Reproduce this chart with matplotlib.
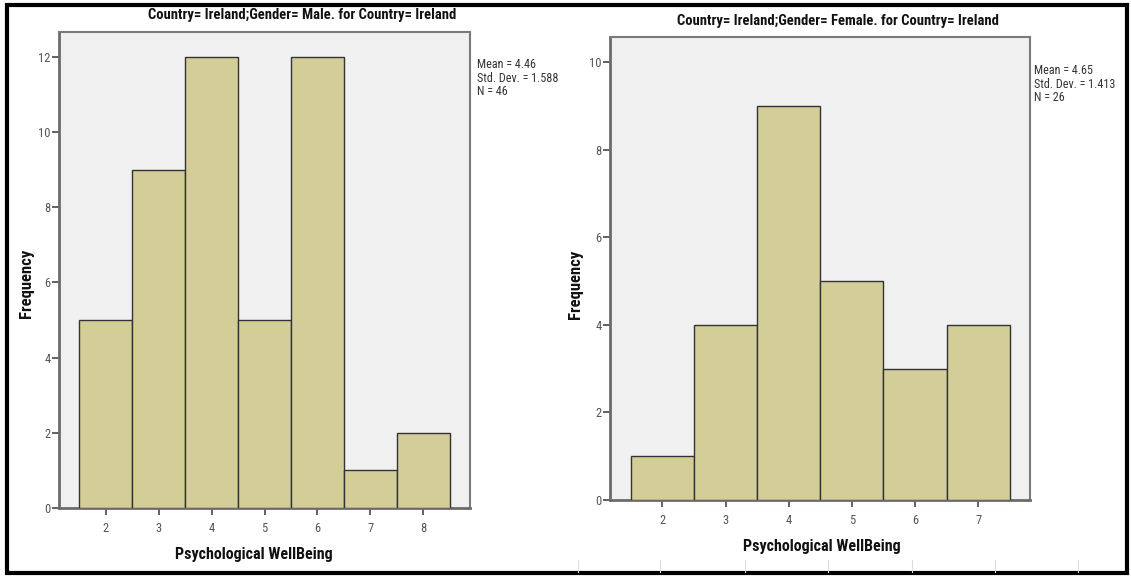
import matplotlib
matplotlib.use("Agg")
import matplotlib.pyplot as plt
from matplotlib import font_manager
from matplotlib.patches import Rectangle
from matplotlib.lines import Line2D

# Data
male_bins = [2, 3, 4, 5, 6, 7, 8]
male_freq = [5, 9, 12, 5, 12, 1, 2]
female_bins = [2, 3, 4, 5, 6, 7]
female_freq = [1, 4, 9, 5, 3, 4]
male_title = "Country= Ireland;Gender= Male. for Country= Ireland"
female_title = "Country= Ireland;Gender= Female. for Country= Ireland"
male_stats = "Mean = 4.46\nStd. Dev. = 1.588\nN = 46"
female_stats = "Mean = 4.65\nStd. Dev. = 1.413\nN = 26"
male_yticks = [0, 2, 4, 6, 8, 10, 12]
female_yticks = [0, 2, 4, 6, 8, 10]
xlabel = "Psychological WellBeing"
ylabel = "Frequency"

narrow = None
for cand in ['Liberation Sans Narrow', 'DejaVu Sans Condensed', 'Roboto Condensed',
             'Open Sans Condensed', 'Arial Narrow']:
    try:
        font_manager.findfont(cand, fallback_to_default=False)
        narrow = cand
        break
    except Exception:
        pass

if narrow:
    plt.rcParams['font.family'] = [narrow, 'DejaVu Sans']
    k = 1.0
else:
    plt.rcParams['font.family'] = ['Liberation Sans', 'DejaVu Sans']
    k = 0.88

W, H = 1131, 577
fig = plt.figure(figsize=(W / 100, H / 100), dpi=100)
fig.patch.set_facecolor("white")

bar_color = "#D3CE97"
bg = "#F0F0F0"

def make_axes(rect, bins, freq, yticks, xlim, ylim, title, title_xy, stats, stats_xy,
              ylab_xy, xlab_xy):
    ax = fig.add_axes(rect)
    ax.set_facecolor(bg)
    ax.bar(bins, freq, width=1.0, color=bar_color, edgecolor="#333333", linewidth=1.0, zorder=3)
    ax.set_xlim(*xlim)
    ax.set_ylim(*ylim)
    ax.set_xticks(bins)
    ax.set_yticks(yticks)
    ax.tick_params(axis="both", direction="out", length=5, width=1.3, color="#555555",
                   labelsize=9 * k, labelcolor="#555555")
    ax.tick_params(axis="x", pad=5)
    ax.tick_params(axis="y", pad=1)
    for s in ["left", "bottom"]:
        ax.spines[s].set_color("#6b6b6b")
        ax.spines[s].set_linewidth(2.0)
    for s in ["top", "right"]:
        ax.spines[s].set_color("#7a7a7a")
        ax.spines[s].set_linewidth(1.5)
    fig.text(title_xy[0] / W, 1 - title_xy[1] / H, title, ha="center", va="center",
             fontsize=10.5 * k, fontweight="bold", color="#111111")
    fig.text(stats_xy[0] / W, 1 - stats_xy[1] / H, stats, ha="left", va="top",
             fontsize=8.7 * k, color="#333333", linespacing=1.05)
    fig.text(ylab_xy[0] / W, 1 - ylab_xy[1] / H, ylabel, rotation=90, ha="center", va="center",
             fontsize=12 * k, fontweight="bold", color="#111111")
    fig.text(xlab_xy[0] / W, 1 - xlab_xy[1] / H, xlabel, ha="center", va="center",
             fontsize=11.5 * k, fontweight="bold", color="#111111")
    return ax

ax1 = make_axes([59 / W, 1 - 508 / H, 411 / W, 476 / H], male_bins, male_freq, male_yticks,
                (1.12, 8.88), (0, 12.66), male_title, (302, 15), male_stats, (477, 58),
                (27, 283), (254, 554))
ax2 = make_axes([610 / W, 1 - 500 / H, 420 / W, 463 / H], female_bins, female_freq, female_yticks,
                (1.17, 7.82), (0, 10.57), female_title, (838, 21), female_stats, (1034, 64),
                (576, 284), (822, 547))

# outer black frame
fig.add_artist(Rectangle((7 / W, 4 / H), (1127 - 7) / W, (572 - 4) / H, transform=fig.transFigure,
                         fill=False, edgecolor="black", linewidth=3))
# faint table marks at bottom right
for xp in [578, 660, 745, 828, 912, 995, 1078]:
    fig.add_artist(Line2D([xp / W, xp / W], [5 / H, 17 / H], transform=fig.transFigure,
                          color="#dddddd", linewidth=0.8))

fig.savefig("out.png", dpi=100)
